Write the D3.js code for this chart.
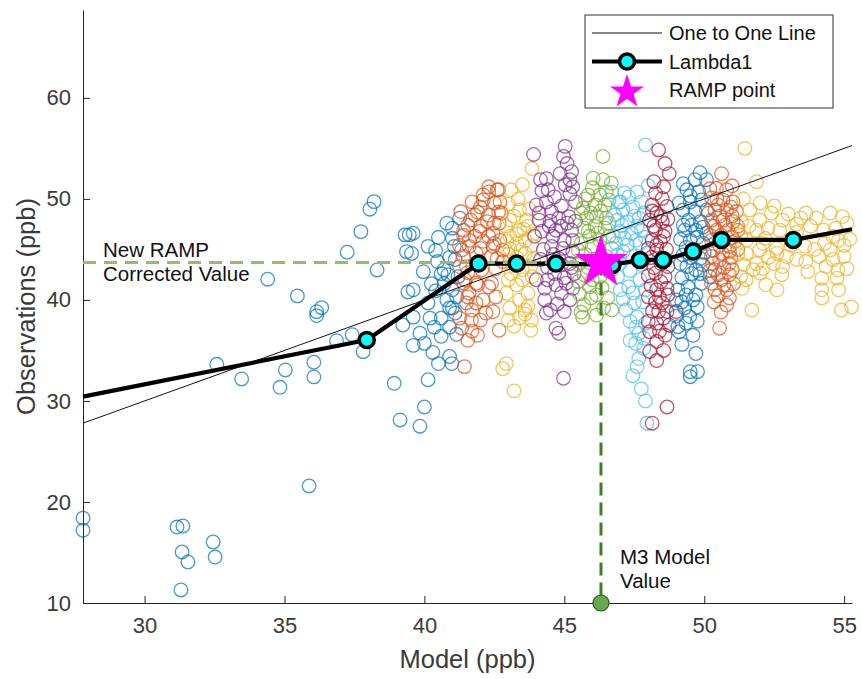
<!DOCTYPE html>
<html>
<head>
<meta charset="utf-8">
<script src="https://cdn.jsdelivr.net/npm/d3@7"></script>
<style>
  body { margin: 0; background: #fff; }
  svg { display: block; font-family: "Liberation Sans", Arial, sans-serif; }
</style>
</head>
<body>
<div id="chart"></div>
<script>
// axis limits and ticks
var xLimits = [27.8, 55.28];
var yLimits = [10, 68.7];
var xTicks = [30, 35, 40, 45, 50, 55];
var yTicks = [10, 20, 30, 40, 50, 60];

// scatter bins, [model, obs]
var bin1 = [[27.8,18.4],[27.8,17.2],[31.16,17.52],[31.37,17.62],[31.34,15.05],[31.55,14.06],[31.3,11.29],[32.45,16.04],[32.52,14.55],[35.88,21.58],
  [32.58,33.63],[33.47,32.18],[34.84,31.35],[35.03,33.07],[35.46,40.4],[34.4,42.05],[36.05,33.83],[36.05,32.38],[36.15,38.84],[36.33,39.24],
  [36.15,38.45],[36.86,35.97],[37.42,36.56],[37.81,34.88],[37.24,44.72],[37.73,46.76],[38.05,48.98],[38.2,49.73],[38.31,42.97],[38.92,31.75],
  [39.13,28.12],[39.31,46.44],[39.46,46.44],[39.36,44.78],[39.41,40.79],[39.23,37.52],[39.84,27.5],[40.0,29.4],[40.13,32.1],[40.5,33.7],
  [40.9,34.4],[40.98,33.7],[39.6,35.5],[40.0,35.7],[39.84,36.7],[39.6,38.3],[40.2,38.2],[40.6,38.2],[41.0,39.2],[41.1,38.7],
  [40.13,39.7],[39.6,41.0],[39.96,42.8],[40.6,42.6],[40.84,42.5],[40.47,43.8],[40.7,43.0],[39.54,44.6],[40.13,45.3],[41.07,45.3],
  [41.0,46.1],[41.0,47.1],[41.26,48.1],[39.6,46.6],[40.8,47.6],[40.5,46.2],[40.9,44.2],[40.4,44.9],[41.1,44.0],[40.7,41.6],
  [41.0,41.0],[40.4,40.9],[40.8,40.0],[41.15,40.3],[40.35,37.3],[40.9,37.3],[41.15,36.6],[40.6,36.4],[40.3,34.8],[41.2,42.3],
  [40.25,41.6],[40.9,39.2]];
var bin2 = [[42.3,51.2],[42.6,50.9],[42.1,50.4],[41.7,49.7],[42.0,49.2],[42.7,49.7],[41.3,48.75],[41.8,48.4],[42.3,48.4],[42.75,48.6],
  [41.55,47.4],[42.0,47.3],[42.5,47.6],[41.4,46.4],[41.8,46.3],[42.3,46.3],[42.7,45.9],[41.25,45.4],[41.6,45.3],[42.0,45.1],
  [42.45,45.3],[42.8,44.95],[41.4,44.3],[42.6,44.1],[42.8,43.8],[41.26,43.3],[41.55,42.7],[41.4,41.65],[41.6,40.66],[41.9,41.5],
  [42.4,41.65],[41.5,39.7],[41.85,39.7],[42.45,38.85],[41.26,38.2],[41.68,38.0],[42.0,38.0],[41.33,37.2],[41.7,36.9],[41.9,36.5],
  [41.55,36.0],[42.67,37.0],[41.43,33.4],[42.3,50.7],[42.65,50.9],[42.1,49.9],[42.5,49.6],[41.9,48.7],[42.65,48.7],[41.65,47.9],
  [42.25,47.75],[42.67,47.6],[41.4,46.9],[41.98,46.8],[42.45,46.6],[41.6,45.9],[42.1,45.8],[42.5,45.6],[41.33,44.95],[41.85,44.6],
  [42.4,44.3],[41.5,43.3],[42.05,42.97],[42.55,43.1],[41.45,41.98],[41.85,41.65],[42.3,41.3],[41.55,40.3],[42.1,40.0],[42.55,40.3],
  [41.7,39.0],[42.2,38.7]];
var bin3 = [[43.1,50.9],[43.5,51.4],[43.84,53.0],[43.4,48.9],[43.05,47.9],[43.4,46.9],[43.7,47.3],[43.05,46.3],[43.3,45.6],[43.6,45.9],
  [43.83,45.4],[43.05,45.1],[42.9,47.3],[43.65,47.9],[42.93,40.66],[43.3,41.5],[43.7,40.66],[43.5,42.0],[43.1,42.6],[43.85,42.3],
  [43.0,38.0],[43.4,38.2],[43.83,38.0],[43.2,37.4],[43.8,37.0],[43.6,38.6],[42.93,33.7],[42.8,33.2],[43.2,31.0],[43.0,44.5],
  [43.3,44.2],[43.6,44.6],[43.9,44.0],[43.15,43.4],[43.5,43.0],[43.8,43.3],[43.0,42.0],[43.4,40.0],[43.7,39.4],[43.05,39.2],
  [43.3,46.5],[43.55,47.0],[43.2,48.3],[43.75,49.0],[43.35,50.0],[43.0,49.5],[43.6,39.0],[42.95,45.8],[43.9,46.5],[43.45,44.95]];
var bin4 = [[43.9,54.4],[44.15,51.9],[44.2,50.8],[44.0,49.4],[44.1,47.9],[43.94,46.3],[45.03,55.2],[44.97,54.2],[45.1,53.5],[45.26,52.7],
  [45.2,51.9],[45.03,51.4],[45.3,51.2],[44.36,52.0],[44.42,50.9],[44.54,48.75],[44.36,49.7],[45.4,49.7],[44.8,48.1],[45.16,48.25],
  [44.46,47.3],[44.88,47.3],[45.26,46.9],[44.6,46.3],[45.0,45.9],[45.3,45.9],[44.54,45.3],[44.95,45.1],[45.3,44.8],[44.8,44.1],
  [45.2,43.6],[44.0,42.0],[44.3,41.15],[44.7,41.5],[45.06,41.65],[45.3,41.15],[44.9,40.66],[44.36,38.7],[45.0,38.85],[44.7,37.2],
  [44.8,36.7],[44.97,32.25],[44.2,46.8],[44.5,47.8],[44.7,46.9],[45.1,47.6],[44.25,45.0],[44.6,44.5],[44.9,43.5],[45.25,43.2],
  [44.4,43.2],[44.15,44.0],[44.65,42.6],[45.0,42.2],[45.35,42.6],[44.3,40.0],[44.75,39.6],[45.2,40.0],[44.5,39.0],[44.9,49.3],
  [44.65,50.2],[45.2,50.5],[44.85,52.5],[44.1,48.6],[45.4,47.8],[44.4,42.0]];
var bin5 = [[46.38,54.2],[46.03,52.05],[46.38,51.9],[46.68,51.55],[45.85,50.4],[46.27,50.4],[46.6,49.9],[45.67,49.1],[46.1,49.4],[46.45,49.4],
  [45.8,48.1],[46.15,48.25],[46.5,48.1],[45.7,47.1],[46.1,47.3],[46.45,47.1],[45.9,46.3],[46.27,45.9],[46.6,46.3],[45.6,45.6],
  [46.0,45.3],[46.7,45.1],[45.7,42.5],[45.9,41.3],[45.7,39.5],[45.65,38.3],[46.15,40.5],[46.55,40.2],[46.4,39.2],[46.27,42.3],
  [45.75,44.5],[46.1,44.0],[45.5,43.5],[46.5,44.3],[45.85,43.2],[46.6,42.8],[45.5,41.8],[46.0,42.0],[46.35,41.2],[45.55,40.6],
  [45.95,40.2],[46.15,38.5],[45.5,44.9],[45.95,48.6],[46.3,48.8],[45.6,48.6],[46.6,47.6],[45.85,46.8],[46.2,46.6],[46.0,51.1],
  [45.75,50.0],[46.5,50.7],[45.6,38.8],[46.7,39.0]];
var bin6 = [[47.9,55.35],[46.95,49.7],[47.3,50.2],[47.6,50.7],[47.1,48.9],[47.46,49.2],[47.76,49.7],[46.9,47.9],[47.25,47.75],[47.67,48.1],
  [47.0,46.8],[47.4,46.6],[47.76,46.9],[46.85,45.6],[47.25,45.45],[47.7,45.6],[46.9,44.45],[47.95,44.6],[46.9,42.3],[47.3,41.3],
  [47.0,41.0],[47.5,39.7],[47.8,39.8],[47.6,38.3],[47.9,37.7],[47.66,36.7],[47.55,35.7],[47.84,35.2],[47.66,34.2],[47.95,27.8],
  [47.0,49.7],[47.15,50.6],[47.5,48.3],[47.85,48.6],[47.05,47.4],[47.6,47.3],[47.9,46.2],[46.75,46.3],[47.15,46.1],[47.55,45.9],
  [47.1,44.8],[47.45,44.3],[47.75,43.5],[47.0,43.6],[46.7,43.0],[47.35,42.9],[47.7,42.0],[47.1,40.1],[47.45,40.7],[47.9,41.0],
  [47.2,39.0],[47.55,37.3],[47.35,37.9],[47.85,36.2],[47.35,36.0],[47.6,33.4],[47.45,32.5],[47.75,31.2],[47.9,30.0],[46.8,48.4],
  [48.0,51.3],[46.7,50.7]];
var bin7 = [[48.37,54.85],[48.2,51.7],[48.55,51.2],[48.26,50.55],[48.5,50.05],[48.14,49.4],[48.67,49.25],[48.3,48.6],[48.05,47.9],[48.5,47.75],
  [48.26,46.9],[48.6,46.8],[48.14,45.9],[48.43,45.8],[48.3,44.95],[48.26,42.65],[48.6,42.3],[48.3,41.0],[48.67,41.15],[48.26,39.8],
  [48.5,39.7],[48.37,38.85],[48.67,38.85],[49.0,38.85],[48.6,36.5],[48.05,36.85],[48.3,35.9],[48.05,34.9],[48.67,29.4],[48.14,27.8],
  [48.15,48.8],[48.45,48.3],[48.7,48.0],[48.2,47.3],[48.55,46.3],[48.3,45.4],[48.0,45.1],[48.65,45.0],[48.1,44.2],[48.45,43.6],
  [48.7,43.3],[48.2,43.2],[48.0,42.4],[48.45,41.8],[48.1,41.4],[48.7,40.5],[48.0,40.3],[48.4,40.3],[48.15,38.9],[48.55,38.2],
  [48.3,37.7],[48.0,37.9],[48.75,37.5],[48.4,36.9],[48.55,35.0],[48.3,34.0],[48.75,52.5],[48.6,53.5]];
var bin8 = [[49.67,51.9],[50.08,51.9],[49.38,50.9],[49.8,50.7],[49.5,49.7],[49.9,49.9],[49.24,48.9],[49.67,48.75],[50.08,48.9],[49.44,47.9],
  [49.86,47.75],[49.3,46.9],[49.7,46.9],[50.08,46.6],[49.5,45.9],[49.96,45.6],[49.24,44.45],[49.86,44.1],[49.38,43.3],[49.7,43.0],
  [49.06,41.0],[49.42,41.3],[49.7,40.5],[49.2,39.8],[49.6,40.0],[49.9,41.65],[49.48,38.35],[49.06,37.35],[49.1,36.85],[49.7,34.7],
  [49.5,32.9],[49.76,32.9],[49.5,32.4],[50.2,42.3],[49.25,47.4],[49.55,47.4],[49.95,47.2],[49.15,46.0],[49.75,46.2],[49.35,45.2],
  [49.65,45.0],[50.0,44.7],[49.5,44.2],[49.15,43.6],[49.95,43.5],[49.55,42.6],[49.2,42.2],[49.85,42.6],[49.35,40.5],[49.0,40.0],
  [49.3,39.2],[49.75,39.3],[49.0,38.4],[49.35,37.7],[49.75,37.9],[49.6,36.5],[49.2,35.6],[49.5,50.3],[49.25,51.5],[49.85,52.6],
  [49.1,49.6]];
var bin9 = [[50.62,52.5],[50.44,51.05],[50.8,50.9],[50.26,50.1],[50.67,49.9],[51.03,49.7],[50.38,48.9],[50.8,48.9],[51.15,48.75],[50.26,47.9],
  [50.67,47.9],[51.03,47.75],[50.44,46.9],[50.85,46.9],[51.2,46.9],[50.26,45.9],[51.1,45.8],[50.32,44.95],[50.9,44.8],[50.55,43.96],
  [50.9,43.6],[50.38,42.97],[50.26,41.65],[50.62,42.0],[50.9,42.5],[50.38,41.0],[50.8,41.0],[50.8,39.5],[50.55,37.2],[50.5,49.4],
  [50.95,49.2],[50.15,48.6],[50.55,48.3],[51.0,48.3],[50.35,47.3],[50.75,47.4],[51.2,47.3],[50.6,46.4],[51.0,46.2],[50.2,46.4],
  [50.55,45.4],[50.9,45.3],[51.2,45.0],[50.25,44.3],[50.65,44.6],[50.95,44.2],[50.3,43.6],[50.7,43.2],[51.0,43.0],[50.5,42.5],
  [50.2,42.9],[50.7,41.5],[51.05,41.6],[50.5,40.4],[50.9,40.2],[50.35,39.8],[50.6,38.8],[51.0,51.3],[50.45,50.0],[50.2,51.0]];
var bin10 = [[51.45,55.0],[51.87,51.7],[51.63,48.9],[51.33,47.75],[51.98,47.9],[52.4,48.6],[52.8,47.9],[51.87,46.9],[52.28,47.1],[52.7,46.9],
  [51.5,45.9],[52.17,46.1],[51.5,44.6],[51.98,44.95],[52.58,45.1],[52.94,44.3],[51.87,43.6],[52.47,43.6],[52.8,43.3],[53.63,48.6],
  [54.0,48.1],[54.5,48.6],[54.94,48.25],[53.8,47.3],[54.27,46.9],[54.7,47.1],[55.1,47.6],[54.8,45.9],[55.0,45.4],[54.5,44.95],
  [55.0,44.3],[53.63,43.8],[54.35,43.3],[54.77,42.97],[53.45,48.1],[51.3,42.3],[51.5,42.0],[51.35,41.15],[51.7,39.0],[52.77,42.5],
  [52.0,42.65],[54.2,42.15],[54.74,42.15],[54.2,41.0],[54.8,41.0],[54.2,40.2],[54.9,39.0],[55.26,39.3],[51.3,46.4],[51.6,47.3],
  [51.2,44.5],[51.75,43.0],[51.4,43.5],[52.1,45.6],[52.3,44.2],[52.6,44.6],[53.1,45.4],[53.3,46.7],[53.6,45.3],[53.95,45.0],
  [54.3,45.6],[54.6,44.0],[54.1,44.3],[53.3,44.0],[53.7,42.8],[52.2,41.5],[52.6,41.0],[53.3,47.5],[54.6,46.3],[55.2,46.0],
  [55.1,43.1],[52.5,49.3],[52.0,49.6],[51.4,50.0],[52.1,43.1],[53.0,48.5]];
var bins = [bin1, bin2, bin3, bin4, bin5, bin6, bin7, bin8, bin9, bin10];
var binColors = ['#0072BD', '#D95319', '#EDB120', '#7E2F8E', '#77AC30', '#4DBEEE', '#A2142F', '#0072BD', '#D95319', '#EDB120'];

// Lambda1 curve (markers) and its extension to the axes edges
var lambdaX = [37.94, 41.93, 43.3, 44.7, 46.72, 47.7, 48.53, 49.6, 50.62, 53.18];
var lambdaY = [36.04, 43.6, 43.6, 43.6, 43.47, 43.96, 43.96, 44.8, 45.94, 45.94];
var lambdaEnds = [[27.8, 30.43], [55.28, 47.0]];

// RAMP point
var rampModel = 46.31;
var rampObs = 43.7;

var width = 862, height = 679;
var margin = {left: 83, right: 10, top: 10, bottom: 76};

var svg = d3.select('#chart').append('svg')
  .attr('width', width)
  .attr('height', height);

var x = d3.scaleLinear().domain(xLimits).range([margin.left, width - margin.right]);
var y = d3.scaleLinear().domain(yLimits).range([height - margin.bottom, margin.top]);

// scatter circles
bins.forEach(function(pts, i) {
  svg.append('g').selectAll('circle')
    .data(pts).enter().append('circle')
    .attr('cx', function(d) { return x(d[0]); })
    .attr('cy', function(d) { return y(d[1]); })
    .attr('r', 6.8)
    .attr('fill', 'none')
    .attr('stroke', binColors[i])
    .attr('stroke-width', 1.3)
    .attr('stroke-opacity', 0.72);
});

// axes (MATLAB style: ticks inside, no box)
var xAxis = svg.append('g')
  .attr('transform', 'translate(0,' + y(yLimits[0]) + ')')
  .call(d3.axisBottom(x).tickValues(xTicks).tickSizeInner(-7).tickSizeOuter(0).tickPadding(14));
var yAxis = svg.append('g')
  .attr('transform', 'translate(' + x(xLimits[0]) + ',0)')
  .call(d3.axisLeft(y).tickValues(yTicks).tickSizeInner(-7).tickSizeOuter(0).tickPadding(12));
[xAxis, yAxis].forEach(function(a) {
  a.select('.domain').attr('stroke', '#262626').attr('stroke-width', 1);
  a.selectAll('.tick line').attr('stroke', '#262626');
  a.selectAll('.tick text').attr('fill', '#3a3a3a').attr('font-size', 22).attr('font-family', '"Liberation Sans", Arial, sans-serif');
});

svg.append('text')
  .attr('x', (x.range()[0] + x.range()[1]) / 2)
  .attr('y', 668)
  .attr('text-anchor', 'middle')
  .attr('font-size', 25.5)
  .attr('fill', '#3a3a3a')
  .text('Model (ppb)');
svg.append('text')
  .attr('transform', 'translate(35,' + ((y.range()[0] + y.range()[1]) / 2) + ') rotate(-90)')
  .attr('text-anchor', 'middle')
  .attr('font-size', 25.5)
  .attr('fill', '#3a3a3a')
  .text('Observations (ppb)');

// one to one line
svg.append('line')
  .attr('x1', x(xLimits[0])).attr('y1', y(xLimits[0]))
  .attr('x2', x(xLimits[1])).attr('y2', y(xLimits[1]))
  .attr('stroke', '#111').attr('stroke-width', 1);

// Lambda1 line
var lambdaPts = lambdaX.map(function(v, i) { return [v, lambdaY[i]]; });
var linePts = [lambdaEnds[0]].concat(lambdaPts, [lambdaEnds[1]]);
svg.append('path')
  .datum(linePts)
  .attr('d', d3.line().x(function(d) { return x(d[0]); }).y(function(d) { return y(d[1]); }))
  .attr('fill', 'none')
  .attr('stroke', '#000')
  .attr('stroke-width', 4.2)
  .attr('stroke-linejoin', 'round');

// dashed guide lines
svg.append('line')
  .attr('x1', x(xLimits[0])).attr('y1', y(rampObs))
  .attr('x2', x(rampModel)).attr('y2', y(rampObs))
  .attr('stroke', '#8fbf6c').attr('stroke-width', 3)
  .attr('stroke-dasharray', '13,8');
svg.append('line')
  .attr('x1', x(rampModel)).attr('y1', y(rampObs))
  .attr('x2', x(rampModel)).attr('y2', y(yLimits[0]))
  .attr('stroke', '#3f7f2a').attr('stroke-width', 3)
  .attr('stroke-dasharray', '13,7');

// Lambda1 markers
svg.append('g').selectAll('circle')
  .data(lambdaPts).enter().append('circle')
  .attr('cx', function(d) { return x(d[0]); })
  .attr('cy', function(d) { return y(d[1]); })
  .attr('r', 7.5)
  .attr('fill', '#00FFFF')
  .attr('stroke', '#000')
  .attr('stroke-width', 3.5);

// RAMP star
var star = d3.symbol().type(d3.symbolStar).size(880);
svg.append('path')
  .attr('d', star())
  .attr('transform', 'translate(' + x(rampModel) + ',' + y(rampObs) + ')')
  .attr('fill', '#FF00FF');

// M3 model point on the axis
svg.append('circle')
  .attr('cx', x(rampModel)).attr('cy', y(yLimits[0]))
  .attr('r', 8)
  .attr('fill', '#6aa84f')
  .attr('stroke', '#2f5a1f').attr('stroke-width', 1.2);

// annotations
var ann = svg.append('g').attr('font-size', 20.5).attr('fill', '#111');
ann.append('text').attr('x', 103).attr('y', 257).text('New RAMP');
ann.append('text').attr('x', 103).attr('y', 281).text('Corrected Value');
ann.append('text').attr('x', 620).attr('y', 564).text('M3 Model');
ann.append('text').attr('x', 620).attr('y', 588).text('Value');

// legend
var lg = svg.append('g').attr('transform', 'translate(585,15)');
lg.append('rect').attr('width', 248).attr('height', 93)
  .attr('fill', '#fff').attr('stroke', '#333').attr('stroke-width', 1);
var rows = [
  {label: 'One to One Line', type: 'thin'},
  {label: 'Lambda1', type: 'lambda'},
  {label: 'RAMP point', type: 'star'}
];
rows.forEach(function(r, i) {
  var cy = 18 + i * 28.5;
  if (r.type === 'thin') {
    lg.append('line').attr('x1', 7).attr('x2', 77).attr('y1', cy).attr('y2', cy)
      .attr('stroke', '#111').attr('stroke-width', 1);
  } else if (r.type === 'lambda') {
    lg.append('line').attr('x1', 7).attr('x2', 77).attr('y1', cy).attr('y2', cy)
      .attr('stroke', '#000').attr('stroke-width', 4.2);
    lg.append('circle').attr('cx', 42).attr('cy', cy).attr('r', 7.5)
      .attr('fill', '#00FFFF').attr('stroke', '#000').attr('stroke-width', 3.5);
  } else {
    lg.append('path').attr('d', d3.symbol().type(d3.symbolStar).size(360)())
      .attr('transform', 'translate(42,' + (cy + 2) + ')')
      .attr('fill', '#FF00FF');
  }
  lg.append('text').attr('x', 84).attr('y', cy + 7).attr('font-size', 20).attr('fill', '#111').text(r.label);
});
</script>
</body>
</html>
